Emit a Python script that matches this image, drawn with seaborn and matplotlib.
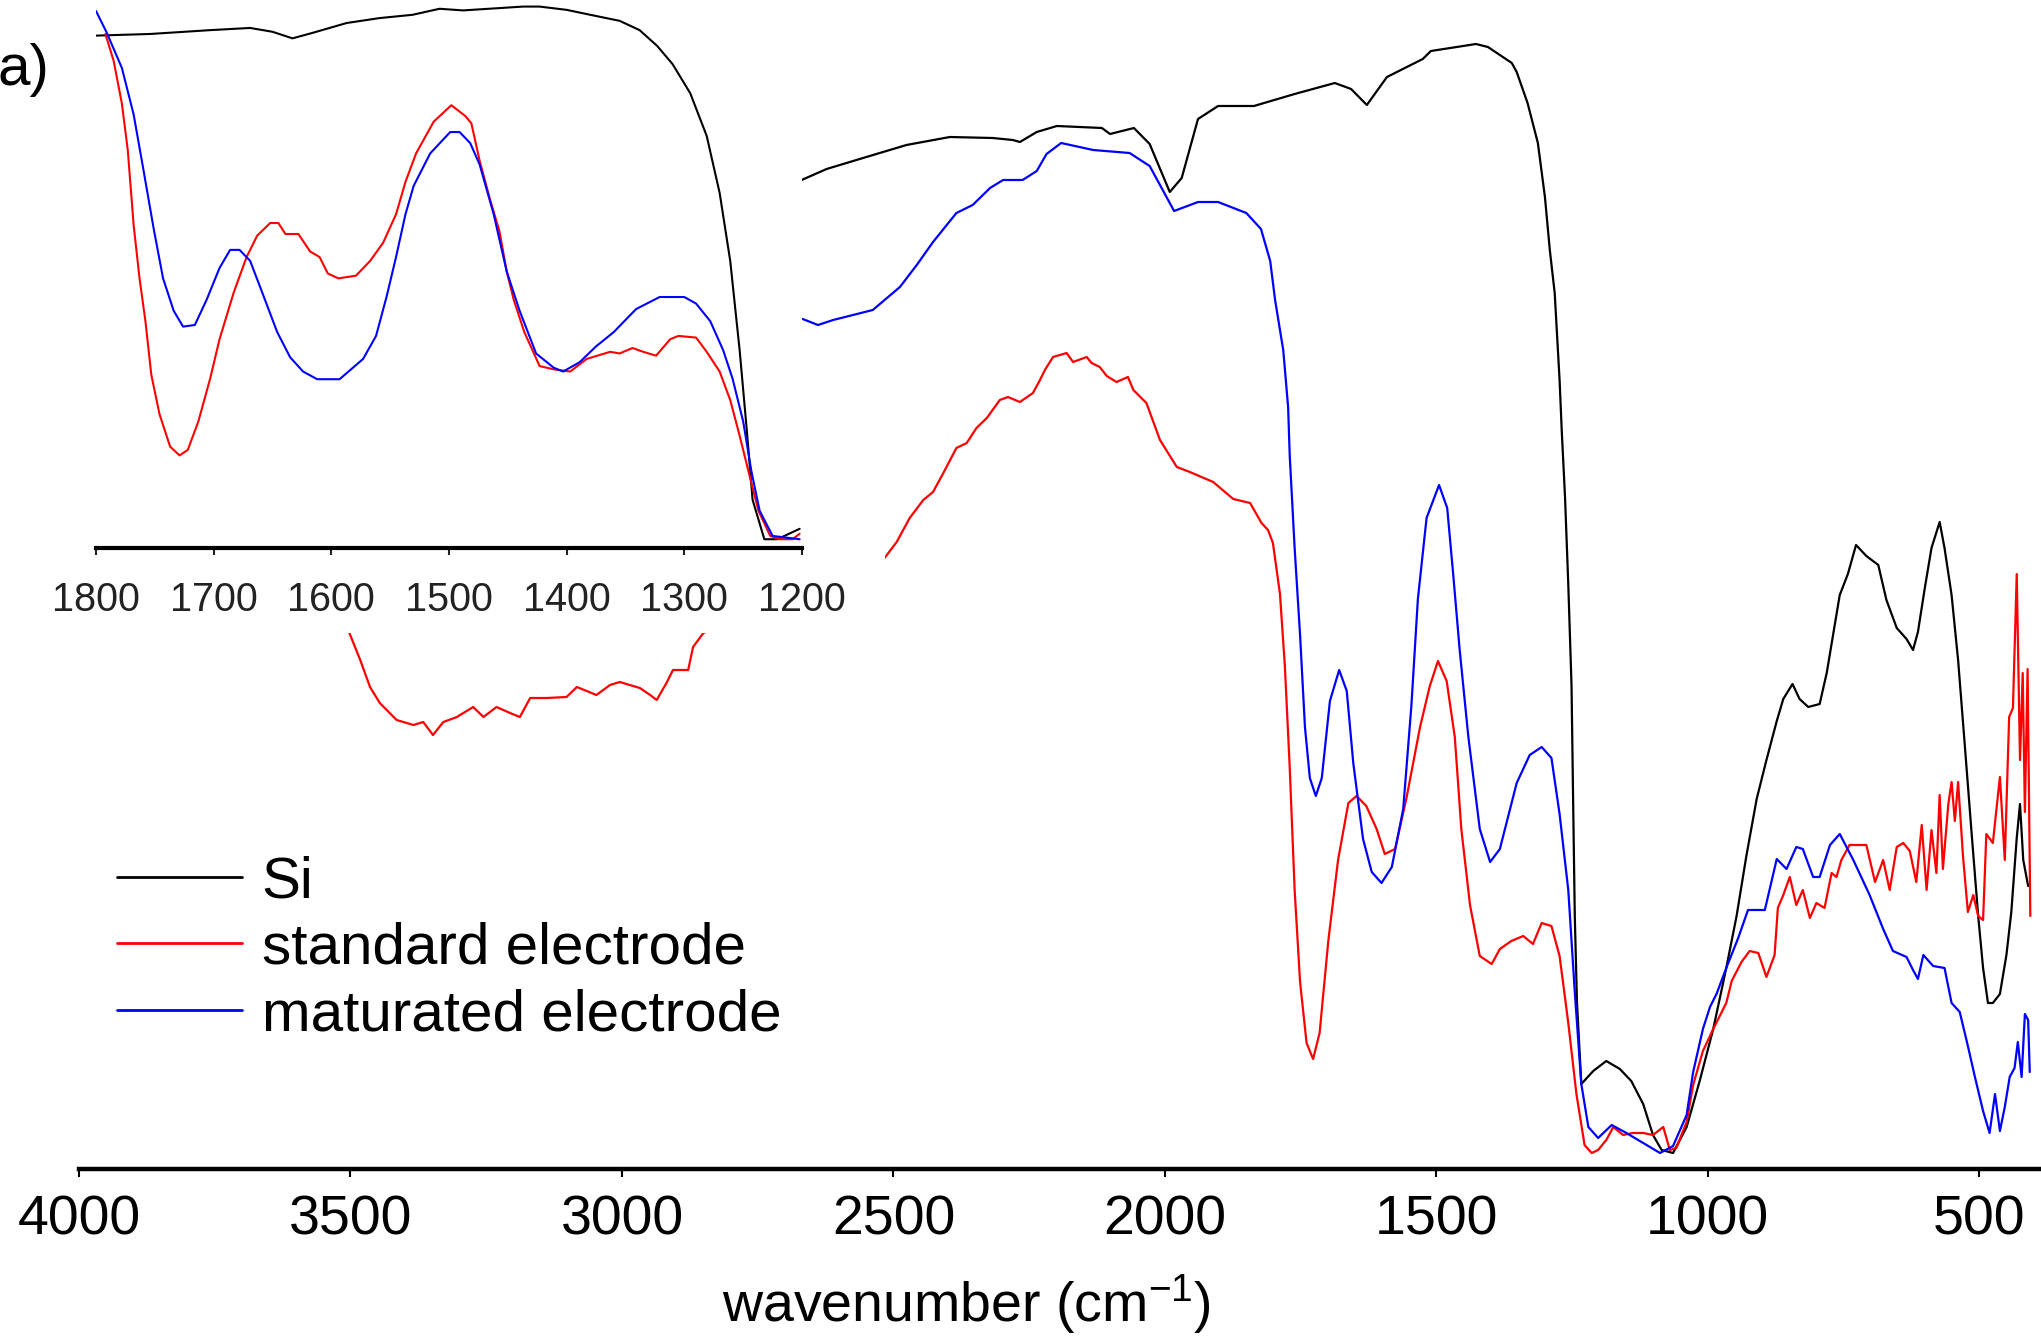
import numpy as np
import pandas as pd
import matplotlib
matplotlib.use("Agg")
import matplotlib.pyplot as plt
from matplotlib.lines import Line2D
from matplotlib.patches import Rectangle
import seaborn as sns

# ---------------- data ----------------
# main spectrum, Si
si_wn = [2669, 2623, 2562, 2476, 2396, 2317, 2280, 2267, 2236, 2199, 2116, 2101, 2057, 2028, 1991, 1969,
         1939, 1902, 1836, 1761, 1687, 1657, 1628, 1591, 1525, 1510, 1427, 1405, 1361, 1352, 1332, 1313,
         1300, 1291, 1282,
         1273, 1269, 1263, 1257, 1251, 1248, 1245, 1241, 1233, 1211, 1187, 1162, 1141, 1119, 1101, 1085,
         1064, 1039, 1015, 990, 966, 947, 929, 910, 892, 873, 861, 844, 831, 815, 794, 781, 769, 757, 742,
         727, 708, 686, 671, 652, 634, 622, 613, 600, 588, 573, 564, 551, 539, 527, 514, 502, 493, 484,
         475, 462, 450, 441, 431, 425, 419, 410]
si_T = [98.9, 100.0, 101.0, 102.4, 103.2, 103.1, 102.9, 102.7, 103.7, 104.3, 104.1, 103.5, 104.1, 102.5,
        97.7, 99.1, 105.0, 106.3, 106.3, 107.5, 108.6, 108.0, 106.4, 109.2, 111.0, 111.8, 112.5, 112.2,
        110.6, 109.7, 106.6, 102.6, 97.2, 91.9, 87.6,
        78.9, 73.8, 67.2, 58.5, 48.3, 36.6, 25.3, 16.7, 8.5, 9.8, 10.8, 10.0,
        8.8, 6.5, 3.4, 1.9, 1.6, 4.2, 8.8, 14.0, 20.1, 25.3, 31.3, 37.0, 40.9, 44.8, 47.0, 48.5, 47.0,
        46.2, 46.5, 49.6, 53.5, 57.4, 59.5, 62.4, 61.3, 60.4, 56.9, 54.1, 53.0, 51.9, 53.7, 58.2, 62.1,
        64.7, 62.1, 57.4, 50.9, 42.6, 33.5, 25.3, 20.1, 16.6, 16.6, 17.5, 21.4, 25.7, 33.1, 36.5, 30.9,
        28.3]

# main spectrum, standard electrode
std_wn = [3502, 3482, 3464, 3446, 3415, 3384, 3366, 3348, 3329, 3304,
          3274, 3255, 3231, 3206, 3188, 3169, 3139, 3102, 3083, 3047,
          3022, 3004, 2967, 2948, 2936, 2918, 2906, 2878, 2869, 2850,
          2519, 2494, 2470, 2445, 2427, 2408, 2384, 2365, 2347, 2328,
          2304, 2289, 2267, 2243, 2230, 2221, 2206, 2181, 2169, 2144,
          2135, 2120, 2107, 2089, 2068, 2058, 2034, 2009, 1978, 1954,
          1911, 1874, 1843, 1822, 1810, 1801, 1788, 1779, 1770, 1761,
          1751, 1739, 1727, 1715, 1699, 1681, 1662, 1647, 1629, 1610,
          1595, 1576, 1555, 1530, 1512, 1497, 1481, 1466, 1454, 1438,
          1420, 1398, 1383, 1362, 1340, 1322, 1306, 1288, 1273, 1257,
          1242, 1227, 1214, 1202, 1187, 1174, 1156, 1138, 1119, 1101,
          1082, 1070, 1058, 1039, 1027, 1009, 990, 966, 956, 938,
          923, 907, 892, 877, 871, 861, 849, 837, 825, 812,
          800, 785, 772, 763, 754, 739, 708, 692, 677, 665,
          652, 640, 628, 616, 606, 597, 588, 579, 573, 567,
          557, 551, 545, 539, 530, 521, 511, 502, 493, 487,
          475, 462, 453, 445, 438, 431, 425, 420, 416, 411, 406]
std_T = [53.6, 50.9, 48.2, 46.6, 44.9, 44.4, 44.7, 43.4, 44.7, 45.2,
         46.2, 45.2, 46.2, 45.6, 45.2, 47.1, 47.1, 47.2, 48.2, 47.4,
         48.4, 48.7, 48.1, 47.4, 46.9, 48.6, 49.9, 49.9, 52.2, 53.6,
         60.9, 62.7, 65.1, 66.9, 67.7, 69.6, 72.1, 72.6, 74.1, 75.1,
         76.9, 77.2, 76.7, 77.6, 78.9, 79.9, 81.2, 81.6, 80.7, 81.2,
         80.6, 80.2, 79.3, 78.7, 79.2, 77.9, 76.6, 72.9, 70.2, 69.7,
         68.7, 67.0, 66.6, 64.6, 63.9, 62.6, 57.5, 50.3, 40.1, 27.9,
         18.7, 12.6, 11.0, 13.6, 22.8, 30.9, 36.6, 37.3, 36.3, 34.0,
         31.5, 32.0, 37.1, 44.2, 48.3, 50.8, 48.8, 43.2, 34.0, 26.4,
         21.3, 20.5, 22.0, 22.8, 23.3, 22.5, 24.6, 24.3, 21.3, 14.6,
         7.5, 2.4, 1.6, 1.9, 2.9, 4.2, 3.4, 3.6, 3.6, 3.4,
         4.2, 1.9, 2.1, 4.7, 8.4, 11.8, 14.0, 16.6, 18.8, 20.7,
         21.8, 21.6, 19.2, 21.4, 26.1, 27.4, 29.2, 26.4, 27.9, 25.1,
         26.6, 26.1, 29.6, 29.2, 30.9, 32.4, 32.4, 28.7, 30.9, 27.9,
         32.2, 32.6, 31.8, 28.7, 34.4, 27.9, 33.9, 29.6, 37.4, 30.0,
         36.5, 38.7, 34.8, 38.7, 31.3, 25.7, 27.4, 25.3, 24.9, 33.5,
         32.6, 39.2, 30.9, 45.2, 46.1, 59.5, 40.9, 49.6, 35.7, 50.0, 25.3]

# main spectrum, matured electrode
mat_wn = [2667, 2639, 2611, 2538, 2488, 2457, 2427, 2384, 2354, 2322, 2298, 2262, 2236, 2218, 2191, 2132,
          2065, 2028, 1983, 1939, 1902, 1850, 1823, 1806, 1797, 1782, 1773, 1770, 1761, 1751, 1742, 1733,
          1722, 1711, 1696, 1679, 1665, 1653, 1635, 1619, 1601, 1582, 1561, 1546, 1534, 1518, 1495, 1480,
          1469, 1457, 1441, 1420, 1401, 1383, 1352, 1328, 1306, 1288, 1273, 1257, 1245, 1233, 1220, 1202,
          1177, 1150, 1119, 1088, 1064, 1039, 1027, 1009, 996, 984, 966, 944, 926, 895, 873, 855, 837, 825,
          806, 794, 775, 757, 732, 702, 677, 659, 634, 622, 613, 603, 585, 564, 551, 536, 521, 508, 493,
          481, 471, 462, 453, 444, 435, 429, 422, 416, 410, 407]
mat_T = [85.0, 84.4, 84.9, 85.9, 88.2, 90.4, 92.7, 95.6, 96.4, 98.1, 98.9, 98.9, 99.8, 101.5, 102.6, 101.9,
         101.6, 100.3, 95.8, 96.7, 96.7, 95.6, 94.0, 90.8, 86.9, 81.9, 76.2, 71.3, 62.1, 53.4, 44.2, 39.1,
         37.3, 39.1, 46.8, 49.9, 47.8, 40.6, 33.0, 29.7, 28.6, 30.2, 36.0, 46.3, 57.0, 65.1, 68.4, 66.1,
         59.5, 51.9, 43.2, 34.0, 30.7, 32.0, 38.6, 41.4, 42.2, 41.1, 35.5, 27.9, 17.7, 8.5, 4.2, 3.1,
         4.4, 3.6, 2.6, 1.6, 2.3, 5.4, 9.7, 14.0, 16.2, 17.5, 20.1, 23.1, 25.9, 25.9, 31.0, 30.0, 32.2, 32.0,
         29.2, 29.2, 32.4, 33.5, 30.9, 27.4, 24.0, 21.8, 21.2, 19.9, 19.0, 21.4, 20.3, 20.1, 16.6, 15.7, 12.3,
         9.2, 5.8, 3.6, 7.5, 3.8, 6.2, 9.2, 10.1, 12.7, 9.2, 15.5, 14.9, 9.7]

# inset (1800-1200 cm-1), own vertical scale
si_in_wn = [1800, 1754, 1703, 1669, 1650, 1633, 1616, 1587, 1559, 1531, 1508, 1488, 1437, 1423, 1400,
            1380, 1355, 1338, 1323, 1310, 1295, 1281, 1270, 1261, 1253, 1247, 1242, 1232, 1221, 1202]
si_in_T = [93.5, 93.8, 94.5, 94.9, 94.2, 93.0, 94.0, 95.8, 96.7, 97.3, 98.4, 98.1, 98.8, 98.8, 98.2,
           97.3, 96.2, 94.5, 91.6, 88.3, 83.0, 75.2, 64.8, 52.4, 36.1, 21.7, 8.8, 1.6, 1.6, 3.5]

std_in_wn = [1792, 1785, 1778, 1773, 1768, 1763, 1758, 1753, 1746, 1737, 1729, 1722, 1713, 1703, 1695,
             1683, 1672, 1663, 1652, 1645, 1639, 1628, 1618, 1610, 1603, 1594, 1579, 1567, 1556, 1545,
             1537, 1528, 1513, 1498, 1486, 1481, 1474, 1465, 1457, 1451, 1445, 1436, 1423, 1411, 1397,
             1383, 1363, 1355, 1344, 1335, 1324, 1312, 1305, 1290, 1281, 1270, 1261, 1253, 1244, 1237,
             1227, 1219, 1208, 1202]
std_in_T = [93.8, 88.9, 81.1, 72.6, 58.9, 49.2, 41.4, 31.6, 24.4, 18.5, 16.9, 17.9, 23.1, 30.9, 38.1,
            46.6, 53.1, 57.0, 59.3, 59.3, 57.3, 57.3, 54.1, 53.1, 50.1, 49.2, 49.7, 52.4, 55.7, 60.9,
            66.8, 72.0, 77.8, 80.8, 78.8, 77.5, 70.7, 63.5, 57.7, 50.5, 45.3, 39.4, 33.2, 32.6, 32.2,
            34.5, 35.8, 35.5, 36.5, 35.8, 35.1, 38.1, 38.7, 38.4, 35.8, 32.2, 27.0, 20.5, 12.7, 6.8,
            2.2, 1.6, 1.6, 2.6]

mat_in_wn = [1800, 1791, 1778, 1768, 1760, 1751, 1743, 1734, 1726, 1716, 1706, 1695, 1686, 1678, 1669,
             1661, 1646, 1635, 1624, 1612, 1593, 1573, 1562, 1553, 1545, 1537, 1530, 1516, 1499, 1491,
             1482, 1474, 1462, 1451, 1440, 1426, 1411, 1403, 1389, 1375, 1360, 1341, 1321, 1300, 1290,
             1278, 1267, 1259, 1250, 1243, 1236, 1225, 1202]
mat_in_T = [98.0, 94.1, 87.6, 79.1, 69.4, 58.3, 49.2, 43.3, 40.4, 40.7, 45.3, 51.1, 54.4, 54.4, 52.4,
            47.9, 39.4, 34.8, 32.2, 30.8, 30.8, 34.5, 38.7, 45.9, 53.1, 60.9, 66.1, 72.0, 75.9, 75.9,
            73.9, 70.0, 60.9, 50.5, 43.3, 35.5, 32.9, 32.2, 33.9, 36.8, 39.4, 43.6, 45.8, 45.8, 44.6,
            41.4, 36.1, 30.9, 23.1, 14.0, 6.8, 2.2, 1.6]

labels = ["Si", "standard electrode", "maturated electrode"]
colors = ["#000000", "#ff0000", "#0000ff"]
main_ticks = [4000, 3500, 3000, 2500, 2000, 1500, 1000, 500]
inset_ticks = [1800, 1700, 1600, 1500, 1400, 1300, 1200]


def long_df(series):
    parts = []
    for lab, wn, t in series:
        d = pd.DataFrame({"wavenumber": wn, "T": t})
        d["sample"] = lab
        parts.append(d)
    return pd.concat(parts, ignore_index=True)


main_df = long_df([(labels[0], si_wn, si_T), (labels[1], std_wn, std_T), (labels[2], mat_wn, mat_T)])
inset_df = long_df([(labels[0], si_in_wn, si_in_T), (labels[1], std_in_wn, std_in_T),
                    (labels[2], mat_in_wn, mat_in_T)])

# ---------------- style ----------------
sns.set_theme(style="ticks")
plt.rcParams["font.family"] = ["Liberation Sans", "DejaVu Sans"]
plt.rcParams["text.color"] = "black"
plt.rcParams["mathtext.fontset"] = "custom"
plt.rcParams["mathtext.rm"] = "Liberation Sans"
plt.rcParams["mathtext.it"] = "Liberation Sans:italic"
plt.rcParams["mathtext.bf"] = "Liberation Sans:bold"

W, H = 2041, 1338
fig = plt.figure(figsize=(W / 100, H / 100), dpi=100)
fig.patch.set_facecolor("white")

palette = dict(zip(labels, colors))

# ---------------- main axes ----------------
ax = fig.add_axes([79 / W, 1 - 1169 / H, (2039 - 79) / W, 1169 / H])
sns.lineplot(data=main_df, x="wavenumber", y="T", hue="sample", palette=palette, sort=False,
             estimator=None, units="sample", linewidth=1.6, legend=False, ax=ax)
ax.set_xlim(4000, 390)
ax.set_ylim(0, 116.9)
ax.set_xticks(main_ticks)
ax.set_xticklabels([str(t) for t in main_ticks])
ax.set_yticks([])
ax.set_ylabel("")
for s in ["left", "right", "top"]:
    ax.spines[s].set_visible(False)
ax.spines["bottom"].set_linewidth(3.2)
ax.spines["bottom"].set_color("black")
ax.tick_params(axis="x", direction="out", length=6, width=1.5, pad=12.5, labelsize=40,
               colors="black")
ax.set_xlabel(r"wavenumber (cm$^{-1}$)", fontsize=40, color="black")
ax.xaxis.set_label_coords((966 - 79) / (2039 - 79), -(1272 - 1169) / 1169)
ax.patch.set_alpha(0)

# white area under the inset's tick labels (hides the main curves there)
ax.add_patch(Rectangle((0, 1 - 633 / H), 885 / W, (633 - 548) / H, transform=fig.transFigure,
                       facecolor="white", edgecolor="none", zorder=5, clip_on=False))

handles = [Line2D([], [], color=c, linewidth=2.0) for c in colors]
leg = ax.legend(handles, labels, loc="upper left", bbox_to_anchor=(117 / W, 1 - 855 / H),
                bbox_transform=fig.transFigure, frameon=False, fontsize=42, handlelength=2.15,
                handletextpad=0.33, labelspacing=0.22, borderpad=0, borderaxespad=0,
                labelcolor="black")

# ---------------- inset ----------------
axi = fig.add_axes([96 / W, 1 - 548 / H, (802 - 96) / W, 548 / H])
axi.set_zorder(6)
axi.set_facecolor("white")
sns.lineplot(data=inset_df, x="wavenumber", y="T", hue="sample", palette=palette, sort=False,
             estimator=None, units="sample", linewidth=1.5, legend=False, ax=axi)
axi.set_xlim(1800, 1200)
axi.set_ylim(0, 100)
axi.set_xticks(inset_ticks)
axi.set_xticklabels([str(t) for t in inset_ticks])
axi.set_yticks([])
axi.set_xlabel("")
axi.set_ylabel("")
for s in ["left", "right", "top"]:
    axi.spines[s].set_visible(False)
axi.spines["bottom"].set_linewidth(3.0)
axi.spines["bottom"].set_color("black")
axi.tick_params(axis="x", direction="out", length=5, width=1.5, pad=18.5, labelsize=28.5,
                colors="#222222")

# panel label
fig.text(-2 / W, 1 - 70 / H, "a)", fontsize=42, ha="left", va="center", color="black")

fig.savefig("out.png", dpi=100, facecolor="white")
